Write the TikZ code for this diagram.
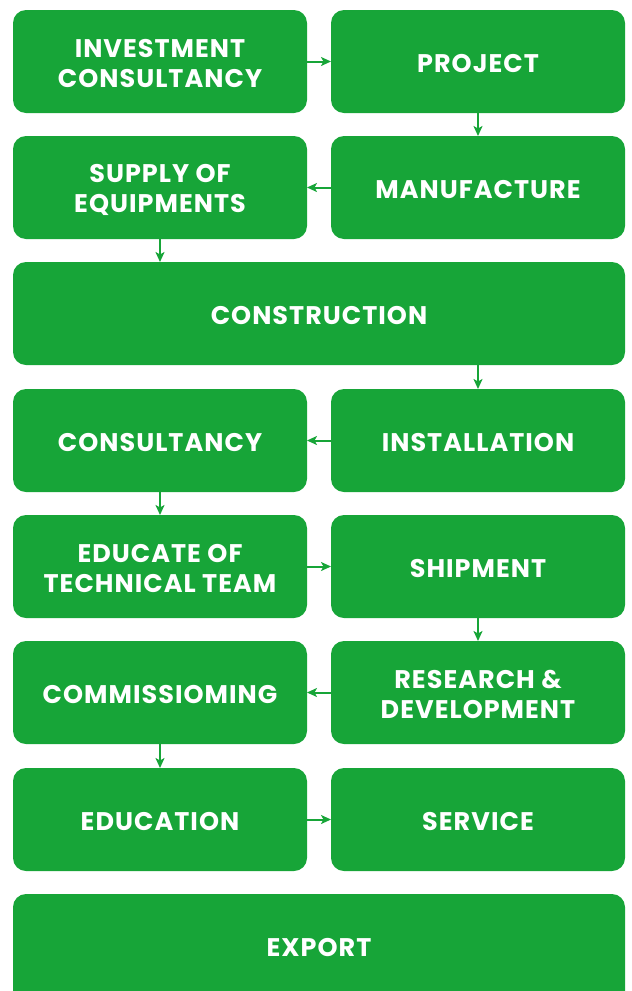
\documentclass[tikz,border=0pt]{standalone}
\usepackage{fontspec}
\setmainfont{Poppins}[LetterSpace=4]
\usetikzlibrary{arrows.meta,positioning}
\definecolor{gr}{RGB}{23,165,56}
\begin{document}
\begin{tikzpicture}[x=1pt,y=-1pt,
  txt/.style={text=white,font=\fontsize{25.5}{30}\selectfont\bfseries,align=center,inner sep=0pt},
  box/.style={fill=gr,draw=none,rounded corners=13pt,inner sep=0pt,outer sep=0pt,
    minimum height=103pt,label={[txt,yshift=-2pt]center:{#1}}},
  half/.style={box={#1},minimum width=294pt},
  full/.style={box={#1},minimum width=612pt},
  arr/.style={draw=gr,line width=2pt,-{Stealth[length=10pt,width=9pt,inset=2.5pt]}}]
\useasboundingbox (0,0) rectangle (632,991);
\clip (0,0) rectangle (632,991);
\node[half={INVESTMENT\\CONSULTANCY}] (a1) at (160,61.5) {};
\node[half={PROJECT}] (b1) at (478,61.5) {};
\node[half={SUPPLY OF\\EQUIPMENTS}] (a2) at (160,187.5) {};
\node[half={MANUFACTURE}] (b2) at (478,187.5) {};
\node[full={CONSTRUCTION}] (c3) at (319,313.5) {};
\node[half={CONSULTANCY}] (a4) at (160,440.5) {};
\node[half={INSTALLATION}] (b4) at (478,440.5) {};
\node[half={EDUCATE OF\\TECHNICAL TEAM}] (a5) at (160,566.5) {};
\node[half={SHIPMENT}] (b5) at (478,566.5) {};
\node[half={COMMISSIOMING}] (a6) at (160,692.5) {};
\node[half={RESEARCH \&\\DEVELOPMENT}] (b6) at (478,692.5) {};
\node[half={EDUCATION}] (a7) at (160,819.5) {};
\node[half={SERVICE}] (b7) at (478,819.5) {};
\node[fill=gr,rounded corners=13pt,inner sep=0pt,minimum width=612pt,minimum height=115pt] (c8) at (319,951.5) {};
\node[txt] (t8) at (319,947.5) {EXPORT};
\draw[arr] (a1.east) -- (b1.west);
\draw[arr] (b1.south) -- (b2.north);
\draw[arr] (b2.west) -- (a2.east);
\draw[arr] (a2.south) -- (a2.south |- c3.north);
\draw[arr] (b2.south |- c3.south) -- (b4.north);
\draw[arr] (b4.west) -- (a4.east);
\draw[arr] (a4.south) -- (a5.north);
\draw[arr] (a5.east) -- (b5.west);
\draw[arr] (b5.south) -- (b6.north);
\draw[arr] (b6.west) -- (a6.east);
\draw[arr] (a6.south) -- (a7.north);
\draw[arr] (a7.east) -- (b7.west);
\end{tikzpicture}
\end{document}
